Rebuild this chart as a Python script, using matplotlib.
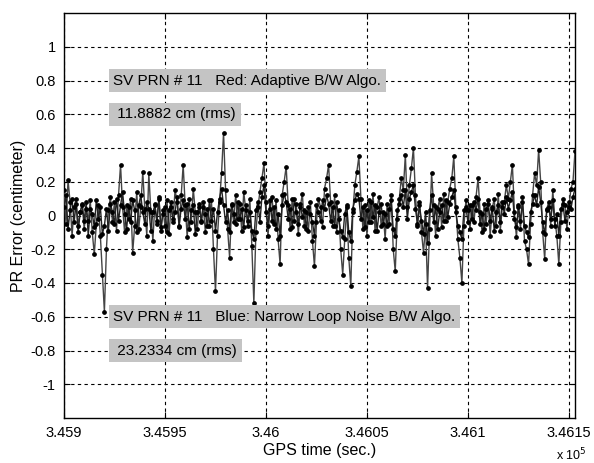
import matplotlib
matplotlib.use("Agg")
import matplotlib.pyplot as plt
import numpy as np

plt.rcParams['font.family'] = ['Liberation Sans', 'DejaVu Sans']

# ---- data ----
t0 = 345900
blue_err = [
    0.15, -0.05, 0.21, 0.08, -0.12, 0.05, 0.10, -0.06, 0.02, 0.07,
    -0.08, 0.04, -0.03, 0.09, -0.10, -0.23, -0.05, 0.06, -0.12, -0.35,
    -0.57, -0.20, 0.03, 0.11, -0.04, 0.08, -0.09, 0.12, 0.30, 0.05,
    -0.10, 0.06, -0.02, 0.10, -0.22, -0.06, 0.14, -0.08, 0.05, 0.26,
    0.04, -0.12, 0.25, 0.02, -0.15, 0.07, -0.05, 0.11, -0.09, 0.03,
    -0.06, 0.09, -0.11, 0.05, -0.02, 0.15, 0.08, -0.07, 0.12, 0.30,
    0.06, -0.13, 0.10, -0.04, 0.16, 0.02, -0.08, 0.07, -0.03, 0.05,
    -0.10, 0.04, -0.06, 0.09, -0.20, -0.45, -0.12, 0.08, 0.25, 0.49,
    0.15, -0.08, -0.25, 0.06, -0.04, 0.12, -0.02, 0.07, -0.09, 0.14,
    0.03, -0.06, 0.10, -0.18, -0.52, -0.10, 0.05, 0.14, 0.22, 0.31,
    0.08, -0.12, 0.04, 0.11, -0.05, 0.09, -0.14, -0.29, 0.12, 0.20,
    0.29, 0.06, -0.08, 0.10, -0.03, 0.07, -0.11, 0.05, 0.13, -0.06,
    0.02, -0.09, 0.08, -0.15, -0.30, -0.04, 0.10, 0.05, -0.07, 0.16,
    0.22, 0.30, 0.08, -0.06, 0.12, -0.10, 0.03, -0.20, -0.35, -0.14,
    0.05, -0.25, -0.42, 0.02, 0.18, 0.26, 0.35, 0.10, -0.08, 0.06,
    -0.12, 0.09, -0.04, 0.13, -0.09, 0.05, 0.11, -0.06, 0.02, -0.14,
    0.07, -0.05, 0.12, -0.20, -0.33, -0.02, 0.10, 0.22, 0.15, 0.36,
    0.05, 0.18, 0.28, 0.40, 0.12, -0.06, 0.08, -0.10, -0.22, -0.05,
    -0.43, -0.08, 0.25, 0.06, -0.12, 0.04, 0.10, -0.07, 0.13, -0.03,
    0.08, 0.16, 0.22, 0.35, 0.05, -0.14, -0.25, -0.40, -0.06, 0.09,
    0.03, -0.08, 0.06, -0.04, 0.11, 0.22, 0.02, -0.10, 0.07, -0.05,
    0.09, -0.12, 0.04, 0.10, -0.06, 0.13, -0.09, 0.05, 0.08, 0.18,
    0.10, 0.20, 0.30, 0.02, -0.13, 0.06, -0.08, 0.11, -0.15, -0.20,
    -0.29, -0.05, 0.12, 0.25, 0.18, 0.39, 0.20, -0.10, -0.26, 0.04,
    0.08, -0.06, 0.15, -0.02, -0.12, -0.29, -0.04, 0.10, 0.06, -0.08,
    0.05, 0.16, 0.20, 0.38,
]
red_err = [
    0.05, 0.12, -0.08, 0.03, 0.10, -0.04, 0.07, -0.10, 0.02, 0.06,
    -0.03, 0.08, -0.12, 0.04, 0.01, -0.07, 0.09, -0.02, 0.05, -0.11,
    -0.06, 0.04, -0.09, 0.07, 0.02, -0.05, 0.10, -0.03, 0.06, 0.14,
    0.01, -0.08, 0.05, -0.04, 0.09, 0.03, -0.10, 0.06, 0.12, 0.02,
    -0.05, 0.08, 0.04, -0.09, 0.02, 0.06, -0.03, 0.10, -0.07, 0.01,
    0.05, -0.10, 0.03, 0.08, -0.04, 0.02, 0.11, -0.06, 0.04, 0.09,
    -0.02, 0.07, -0.08, 0.03, 0.06, -0.11, 0.02, 0.05, -0.04, 0.08,
    0.01, -0.06, 0.09, -0.03, 0.04, -0.09, 0.02, 0.10, 0.16, 0.06,
    -0.04, 0.03, -0.10, 0.07, 0.01, -0.05, 0.08, -0.02, 0.04, -0.07,
    0.06, -0.03, 0.02, -0.09, -0.14, 0.03, 0.08, -0.04, 0.11, 0.18,
    0.02, -0.06, 0.09, -0.03, 0.05, -0.08, 0.01, -0.12, 0.06, 0.13,
    0.08, -0.02, 0.04, -0.07, 0.10, 0.02, -0.05, 0.07, -0.01, 0.03,
    -0.08, 0.05, 0.01, -0.04, -0.12, 0.06, 0.02, -0.03, 0.09, 0.04,
    0.12, 0.07, -0.03, 0.05, -0.06, 0.08, -0.02, -0.09, -0.13, 0.01,
    0.06, -0.10, -0.15, 0.04, 0.09, 0.13, 0.10, -0.02, 0.05, -0.07,
    0.03, -0.04, 0.08, -0.01, 0.06, -0.09, 0.02, 0.07, -0.05, 0.01,
    -0.06, 0.04, 0.09, -0.08, -0.12, 0.03, 0.07, 0.12, 0.05, 0.15,
    -0.02, 0.10, 0.14, 0.18, 0.04, -0.05, 0.06, -0.03, -0.11, 0.02,
    -0.16, 0.03, 0.12, -0.04, 0.05, -0.08, 0.02, 0.06, -0.03, 0.09,
    -0.01, 0.07, 0.11, 0.15, 0.02, -0.06, -0.10, -0.14, 0.03, 0.05,
    -0.04, 0.06, -0.02, 0.08, 0.03, 0.10, -0.05, 0.01, -0.08, 0.04,
    0.07, -0.03, 0.05, -0.09, 0.02, 0.06, -0.04, 0.08, 0.01, 0.11,
    0.04, 0.09, 0.14, -0.02, -0.07, 0.05, -0.03, 0.08, -0.06, -0.10,
    -0.13, 0.02, 0.07, 0.12, 0.06, 0.17, 0.08, -0.04, -0.11, 0.03,
    0.05, -0.02, 0.09, -0.06, 0.01, -0.12, 0.04, 0.07, -0.03, 0.02,
    0.08, 0.04, 0.11, 0.16,
]
gps_time = [t0 + i for i in range(len(blue_err))]

x_ticks = [345900, 345950, 346000, 346050, 346100, 346150]
x_tick_labels = ['3.459', '3.4595', '3.46', '3.4605', '3.461', '3.4615']
y_ticks = [-1, -0.8, -0.6, -0.4, -0.2, 0, 0.2, 0.4, 0.6, 0.8, 1]
y_tick_labels = ['-1', '-0.8', '-0.6', '-0.4', '-0.2', '0', '0.2', '0.4', '0.6', '0.8', '1']

annotations = [
    (345924.5, 0.8, 'SV PRN # 11   Red: Adaptive B/W Algo.'),
    (345924.5, 0.6, ' 11.8882 cm (rms)'),
    (345924.5, -0.6, 'SV PRN # 11   Blue: Narrow Loop Noise B/W Algo.'),
    (345924.5, -0.8, ' 23.2334 cm (rms)'),
]

# ---- figure ----
fig = plt.figure(figsize=(5.94, 4.63), dpi=100)
ax = fig.add_axes([64/594, 1-418/463, (575-64)/594, (418-13)/463])

ax.plot(gps_time, blue_err, '-', color='#444444', lw=1.0, zorder=3)
ax.plot(gps_time, blue_err, '.', color='black', ms=4.8, zorder=4)
ax.plot(gps_time, red_err, '-', color='#222222', lw=1.0, zorder=3)
ax.plot(gps_time, red_err, '.', color='black', ms=4.8, zorder=4)

ax.set_xlim(345900, 346153)
ax.set_ylim(-1.2, 1.2)
ax.set_xticks(x_ticks)
ax.set_xticklabels(x_tick_labels)
ax.set_yticks(y_ticks)
ax.set_yticklabels(y_tick_labels)
ax.tick_params(direction='in', top=True, right=True, labelsize=10.5, length=4,
               pad=6, colors='black')
ax.grid(True, color='black', linestyle=(0, (3, 3)), lw=0.8)

for s in ax.spines.values():
    s.set_color('black')
    s.set_linewidth(1.0)

for x, y, s in annotations:
    ax.text(x, y, s, fontsize=11, va='center', ha='left', zorder=6,
            bbox=dict(boxstyle='square,pad=0.3', fc='#c4c4c4', ec='none'))

ax.set_xlabel('GPS time (sec.)', fontsize=11.5, labelpad=2)
ax.set_ylabel('PR Error (centimeter)', fontsize=11.5, labelpad=3)
fig.text(556/594, 1-455/463, r'x 10$^5$', fontsize=9, ha='left', va='center')

fig.savefig('out.png', dpi=100)
